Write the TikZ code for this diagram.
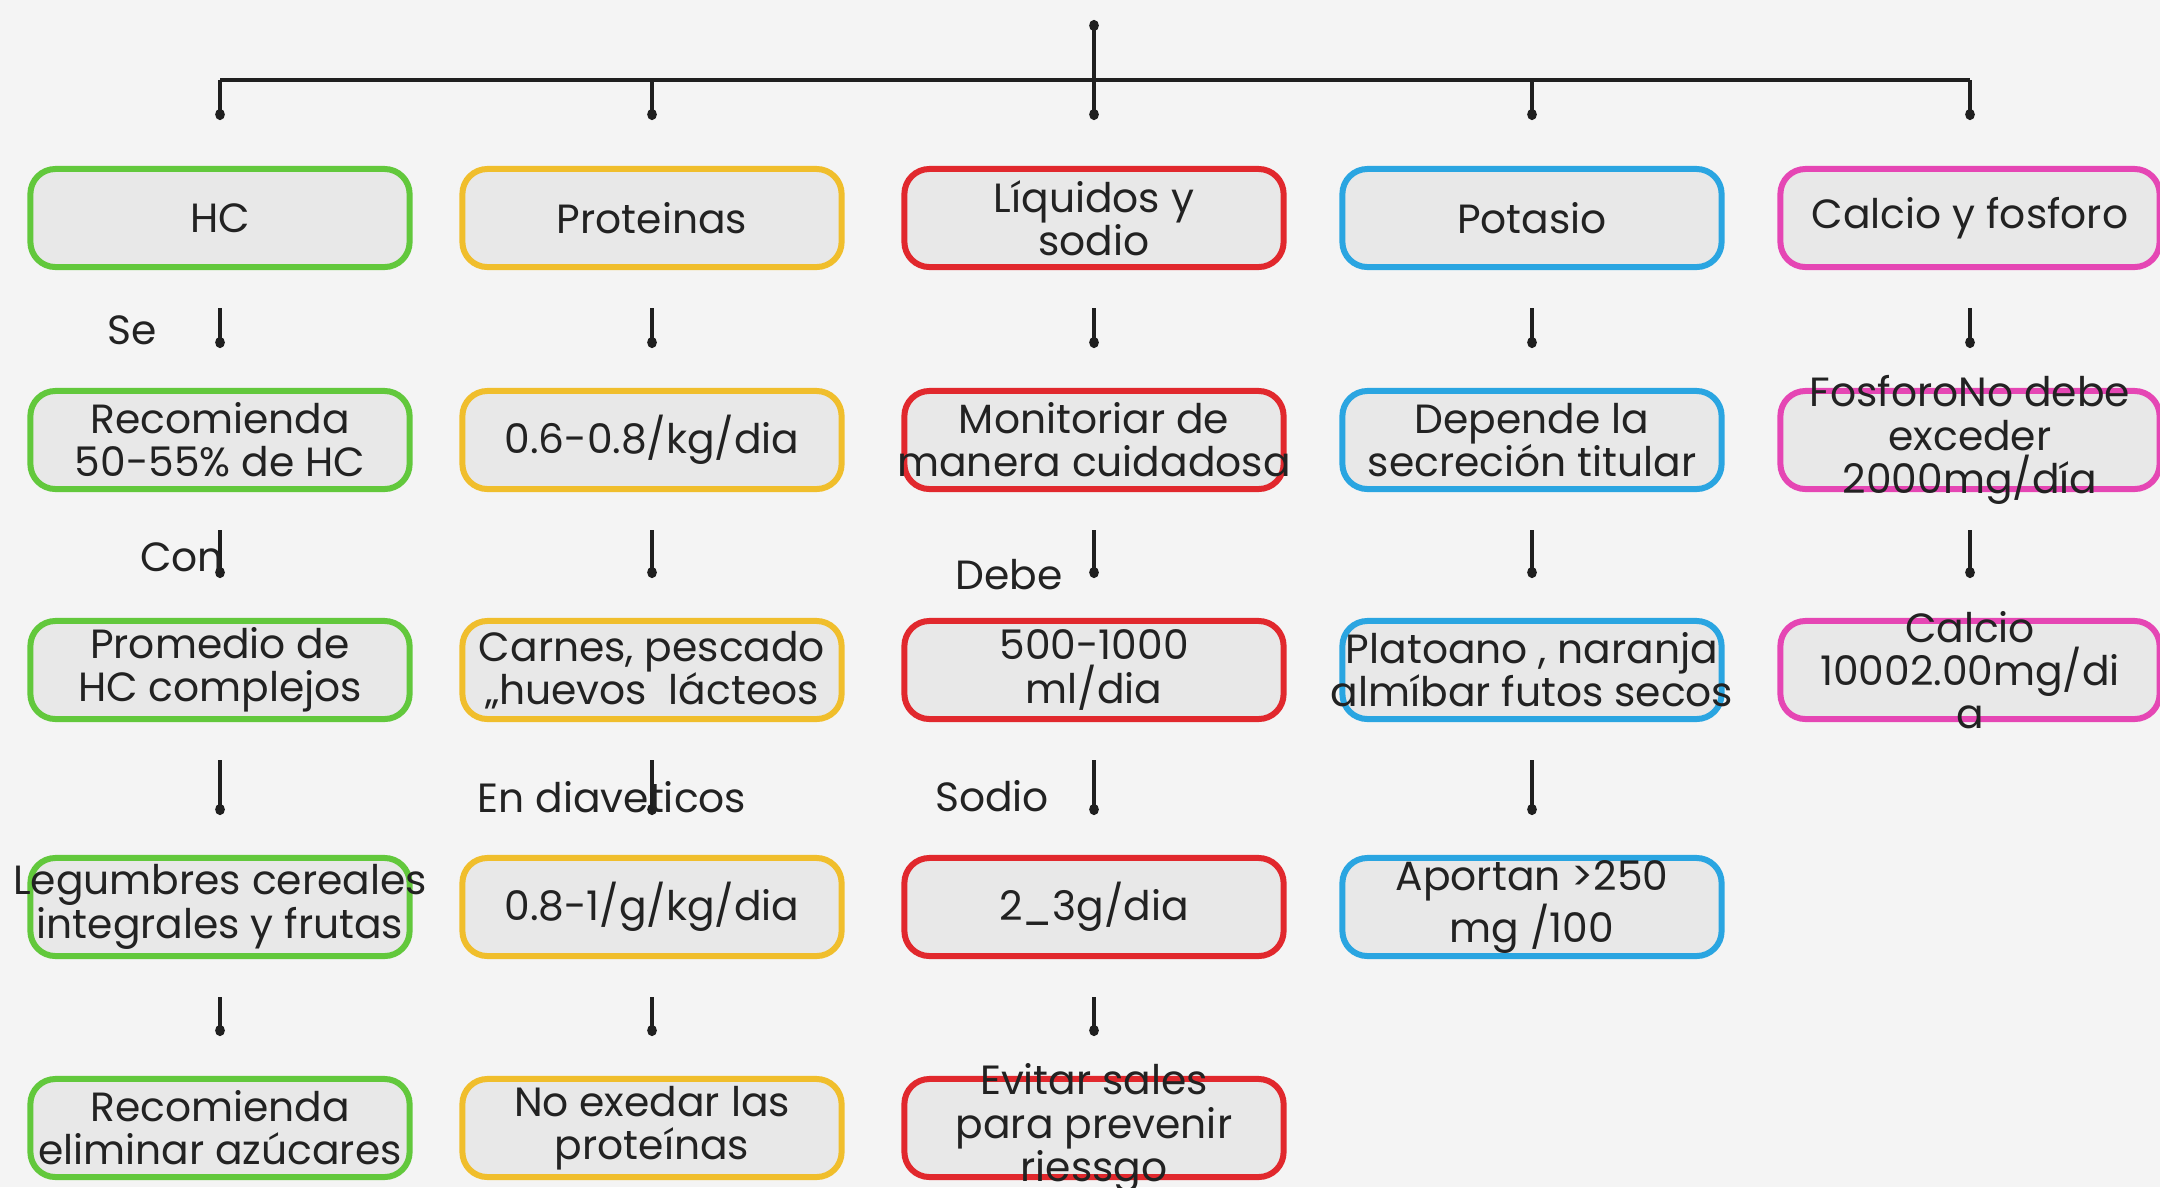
\documentclass[tikz,border=0pt]{standalone}
\usepackage{fontspec}
\setmainfont{Poppins}
\usetikzlibrary{arrows.meta}
\definecolor{bgc}{HTML}{F4F4F4}
\definecolor{boxfill}{HTML}{E8E8E8}
\definecolor{cgreen}{HTML}{62C83C}
\definecolor{cyellow}{HTML}{F0BE2C}
\definecolor{cred}{HTML}{E1282D}
\definecolor{cblue}{HTML}{2AA5E1}
\definecolor{cpink}{HTML}{E546B4}
\definecolor{ink}{HTML}{222222}
\begin{document}
\begin{tikzpicture}[x=0.01cm,y=-0.01cm,
  box/.style={draw=#1, fill=boxfill, line width=0.06cm, rounded corners=0.25cm,
    minimum width=3.79cm, minimum height=0.98cm, inner sep=0pt},
  txt/.style={text=ink, align=center, font=\fontsize{11.6pt}{12.3pt}\selectfont, inner sep=0pt},
  lbl/.style={text=ink, font=\fontsize{11.6pt}{12.3pt}\selectfont, inner sep=0pt},
  wire/.style={draw=black!88, line width=0.035cm},
  dot/.style={-{Circle[length=0.11cm,width=0.095cm]}},
  conn/.style={wire, dot, shorten <=0.38cm, shorten >=0.40cm},
  branch/.style={wire, dot, shorten >=0.46cm}
]
\useasboundingbox (0,0) rectangle (2160,1187);
\fill[bgc] (0,0) rectangle (2160,1187);

% boxes: columns 220, 652, 1094, 1532, 1970 ; rows 218, 440, 670, 907, 1128
\foreach \c/\x/\col in {1/220/cgreen,2/652/cyellow,3/1094/cred,4/1532/cblue,5/1970/cpink}{
  \node[box=\col] (b1\c) at (\x,218) {};
  \node[box=\col] (b2\c) at (\x,440) {};
  \node[box=\col] (b3\c) at (\x,670) {};
}
\foreach \c/\x/\col in {1/220/cgreen,2/652/cyellow,3/1094/cred,4/1532/cblue}{
  \node[box=\col] (b4\c) at (\x,907) {};
}
\foreach \c/\x/\col in {1/220/cgreen,2/652/cyellow,3/1094/cred}{
  \node[box=\col] (b5\c) at (\x,1128) {};
}

% texts
\node[txt] (t11) at (b11) {HC};
\node[txt] (t12) at (b12) {Proteinas};
\node[txt] (t13) at (b13) {Líquidos y\\sodio};
\node[txt] (t14) at (b14) {Potasio};
\node[txt] (t15) at (b15) {Calcio y fosforo};

\node[txt] (t21) at (b21) {Recomienda\\50-55\% de HC};
\node[txt] (t22) at (b22) {0.6-0.8/kg/dia};
\node[txt] (t23) at (b23) {Monitoriar de\\manera cuidadosa};
\node[txt] (t24) at (b24) {Depende la\\secreción titular};
\node[txt] (t25) at (b25) {FosforoNo debe\\exceder\\2000mg/día};

\node[txt] (t31) at (b31) {Promedio de\\HC complejos};
\node[txt] (t32) at (b32) {Carnes, pescado\\„huevos\ \ lácteos};
\node[txt] (t33) at (b33) {500-1000\\ml/dia};
\node[txt] (t34) at (b34) {Platoano , naranja\\almíbar futos secos};
\node[txt] (t35) at (b35) {Calcio\\10002.00mg/di\\a};

\node[txt] (t41) at (b41) {Legumbres cereales\\integrales y frutas};
\node[txt] (t42) at (b42) {0.8-1/g/kg/dia};
\node[txt] (t43) at (b43) {2\_3g/dia};
\node[txt] (t44) at (b44) {Aportan >250\\mg /100};

\node[txt] (t51) at (b51) {Recomienda\\eliminar azúcares};
\node[txt] (t52) at (b52) {No exedar las\\proteínas};
\node[txt] (t53) at (b53) {Evitar sales\\para prevenir\\riessgo};

% top tree
\coordinate (root) at (1094,20);
\coordinate (barL) at (220,80);
\coordinate (barR) at (1970,80);
\draw[wire] (barL) -- (barR);
\draw[wire, {Circle[length=0.11cm,width=0.095cm]}-{Circle[length=0.11cm,width=0.095cm]}, shorten >=0.46cm] (root) -- (b13.north);
\draw[branch] (b11.north |- barL) -- (b11.north);
\draw[branch] (b12.north |- barL) -- (b12.north);
\draw[branch] (b14.north |- barL) -- (b14.north);
\draw[branch] (b15.north |- barL) -- (b15.north);

% vertical connectors
\foreach \c in {1,2,3,4,5}{
  \draw[conn] (b1\c) -- (b2\c);
  \draw[conn] (b2\c) -- (b3\c);
}
\foreach \c in {1,2,3,4}{
  \draw[conn] (b3\c) -- (b4\c);
}
\foreach \c in {1,2,3}{
  \draw[conn] (b4\c) -- (b5\c);
}

% connector labels
\node[lbl] (lse) at (132,330) {Se};
\node[lbl] (lcon) at (182,557) {Con};
\node[lbl] (ldebe) at (1009,575) {Debe};
\node[lbl] (lendia) at (612,797) {En diaveticos};
\node[lbl] (lsodio) at (992,796) {Sodio};
\end{tikzpicture}
\end{document}
